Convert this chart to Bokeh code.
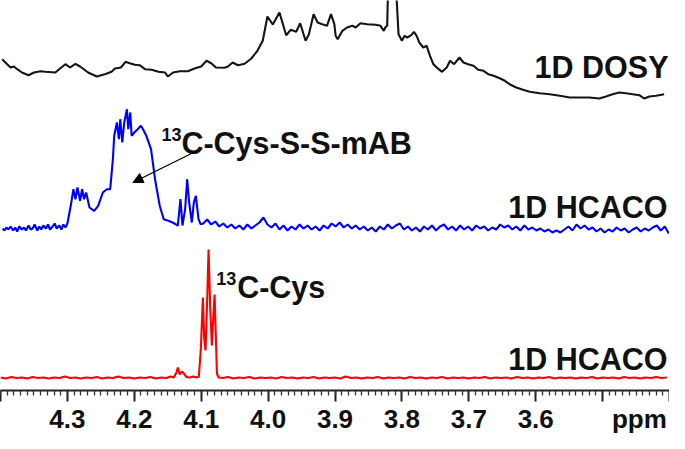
from bokeh.plotting import figure
from bokeh.models import (Range1d, FixedTicker, CustomJSTickFormatter, Label,
                          Arrow, NormalHead, LinearAxis)
from bokeh.embed import file_html
from bokeh.resources import INLINE

# ---------------- data (chemical shift in ppm, intensity in arbitrary units) -------------
dosy_ppm = [4.3975, 4.390, 4.385, 4.380, 4.375, 4.368, 4.358, 4.350, 4.340, 4.333,
            4.318, 4.311, 4.303, 4.296, 4.288, 4.281, 4.269, 4.256, 4.244, 4.234,
            4.229, 4.220, 4.213, 4.207, 4.199, 4.192, 4.184, 4.174, 4.164, 4.154,
            4.150, 4.142, 4.132, 4.120, 4.110, 4.100, 4.092, 4.085, 4.078, 4.065,
            4.060, 4.053, 4.045, 4.035, 4.025, 4.016, 4.008, 4.001, 3.993, 3.983,
            3.973, 3.966, 3.958, 3.952, 3.944, 3.939, 3.932, 3.926, 3.919, 3.912,
            3.906, 3.901, 3.899, 3.896, 3.889, 3.882, 3.874, 3.869, 3.862, 3.852,
            3.839, 3.832, 3.827, 3.825, 3.822, 3.821, 3.818, 3.811, 3.808, 3.805,
            3.800, 3.796, 3.792, 3.786, 3.782, 3.778, 3.774, 3.768, 3.763, 3.758,
            3.753, 3.745, 3.740, 3.733, 3.728, 3.722, 3.714, 3.708, 3.701, 3.693,
            3.686, 3.678, 3.671, 3.663, 3.653, 3.646, 3.639, 3.629, 3.619, 3.609,
            3.594, 3.579, 3.564, 3.549, 3.534, 3.520, 3.505, 3.495, 3.485, 3.475,
            3.465, 3.455, 3.445, 3.438, 3.430, 3.420, 3.408]
dosy_intensity = [43.3, 38.3, 35, 36, 33.3, 30, 27.3, 30, 31.3, 30.7,
                  30, 34, 38.3, 35, 38.7, 36, 30, 26, 28.3, 30.7,
                  34, 35, 40.7, 39.3, 37.7, 37.3, 33.3, 32.7, 30.7, 30,
                  26, 30, 31.3, 31.3, 34, 36, 41.7, 39.3, 35, 34.7,
                  36, 40, 37.3, 38.7, 44, 51.7, 61.7, 86, 78, 90,
                  67.3, 72.7, 70.7, 79.3, 61.7, 68.3, 88.3, 80, 78.3, 76.7,
                  88.3, 78.3, 66.7, 63.3, 71.7, 75, 76.7, 75, 79.3, 78.3,
                  77.7, 76.7, 71.7, 75, 76.7, 105, 140, 140, 105, 68.3,
                  61.7, 66.7, 65, 67.3, 70.7, 66.7, 60, 55, 56.7, 46.7,
                  38.3, 33.3, 30.7, 35, 41.7, 38.3, 45, 40, 38.3, 36.7,
                  32.7, 31.7, 28.3, 26.7, 24, 21.7, 18.3, 15, 12.7, 10.7,
                  9.3, 8.3, 6.7, 5, 5, 5, 4, 6, 8.3, 10,
                  9.3, 8.3, 7.3, 4, 6, 6.7, 8.3]

hcaco_mab_ppm = [4.397, 4.394, 4.391, 4.388, 4.385, 4.381, 4.378, 4.375, 4.372, 4.368,
                 4.365, 4.362, 4.358, 4.355, 4.352, 4.349, 4.345, 4.342, 4.339, 4.336,
                 4.332, 4.329, 4.326, 4.322, 4.319, 4.316, 4.312, 4.309, 4.306, 4.303,
                 4.300, 4.295, 4.291, 4.288, 4.285, 4.281, 4.278, 4.275, 4.272, 4.267,
                 4.260, 4.254, 4.247, 4.241, 4.236, 4.232, 4.230, 4.226, 4.223, 4.221,
                 4.218, 4.215, 4.211, 4.209, 4.206, 4.204, 4.200, 4.195, 4.190, 4.187,
                 4.182, 4.175, 4.169, 4.162, 4.156, 4.149, 4.143, 4.138, 4.135, 4.131,
                 4.128, 4.124, 4.121, 4.118, 4.114, 4.111, 4.108, 4.104, 4.101, 4.097,
                 4.091, 4.085, 4.079, 4.073, 4.067, 4.061, 4.055, 4.049, 4.043, 4.037,
                 4.031, 4.025, 4.019, 4.013, 4.007, 4.001, 3.995, 3.989, 3.983, 3.977,
                 3.971, 3.965, 3.959, 3.953, 3.947, 3.941, 3.935, 3.929, 3.923, 3.917,
                 3.911, 3.905, 3.899, 3.893, 3.887, 3.881, 3.875, 3.869, 3.863, 3.857,
                 3.851, 3.845, 3.839, 3.833, 3.827, 3.821, 3.815, 3.809, 3.803, 3.797,
                 3.791, 3.785, 3.779, 3.773, 3.767, 3.761, 3.755, 3.749, 3.743, 3.737,
                 3.731, 3.725, 3.719, 3.713, 3.707, 3.701, 3.695, 3.689, 3.683, 3.677,
                 3.671, 3.665, 3.659, 3.653, 3.647, 3.641, 3.635, 3.629, 3.623, 3.617,
                 3.611, 3.605, 3.599, 3.593, 3.587, 3.581, 3.575, 3.569, 3.563, 3.557,
                 3.551, 3.545, 3.539, 3.533, 3.527, 3.521, 3.515, 3.509, 3.503, 3.497,
                 3.491, 3.485, 3.479, 3.473, 3.467, 3.461, 3.455, 3.449, 3.443, 3.437,
                 3.431, 3.425, 3.419, 3.413, 3.407, 3.401]
hcaco_mab_intensity = [4, 2, 5, 3, 6, 2, 5, 1, 6, 3,
                       5, 2, 7, 3, 4, 8, 2, 6, 3, 7,
                       4, 8, 3, 6, 9, 4, 7, 3, 8, 5,
                       9, 26.7, 43.3, 33.3, 45, 31.7, 43.3, 33.3, 40, 25,
                       21.7, 26.7, 40, 43.3, 43.3, 73.3, 96.7, 110, 93.3, 113.3,
                       90, 110, 123.3, 103.3, 120, 96.7, 100, 103.3, 106.7, 103.3,
                       96.7, 83.3, 53.3, 26.7, 13.3, 11.7, 10, 8.3, 6.7, 33.3,
                       7, 23.3, 53.3, 30, 10, 30, 36.7, 13.3, 8.3, 9,
                       13, 8, 11, 6, 9, 5, 8, 4, 7, 3,
                       8, 4, 7, 10, 15, 8, 5, 9, 3, 7,
                       2, 6, 3, 8, 4, 7, 3, 6, 2, 7,
                       4, 9, 6, 10, 5, 8, 4, 7, 3, 6,
                       2, 5, 1, 6, 3, 8, 4, 7, 9, 3,
                       6, 2, 5, 1, 6, 3, 7, 2, 6, 8,
                       3, 6, 2, 7, 3, 6, 2, 7, 4, 6,
                       2, 5, 3, 8, 5, 7, 3, 6, 2, 7,
                       3, 5, 2, 4, 1, 3, 0, 2, 0, 3,
                       6, 2, 8, 4, 7, 3, 5, 1, 4, 0,
                       3, 1, 5, 2, 4, 0, 3, 5, 1, 4,
                       2, 5, 7, 2, 6, -1]

hcaco_cys_ppm = [4.400, 4.392, 4.384, 4.376, 4.368, 4.360, 4.352, 4.344, 4.336, 4.328,
                 4.320, 4.312, 4.304, 4.296, 4.288, 4.280, 4.272, 4.264, 4.256, 4.248,
                 4.240, 4.232, 4.224, 4.216, 4.208, 4.200, 4.192, 4.184, 4.176, 4.168,
                 4.160, 4.152, 4.146, 4.141, 4.137, 4.135, 4.132, 4.129, 4.126, 4.122,
                 4.117, 4.112, 4.107, 4.1035, 4.1005, 4.0975, 4.0955, 4.0935, 4.091, 4.089,
                 4.0865, 4.084, 4.082, 4.080, 4.078, 4.0765, 4.074, 4.068, 4.060, 4.052,
                 4.044, 4.036, 4.028, 4.020, 4.012, 4.004, 3.996, 3.988, 3.980, 3.972,
                 3.964, 3.956, 3.948, 3.940, 3.932, 3.924, 3.916, 3.908, 3.900, 3.892,
                 3.884, 3.876, 3.868, 3.860, 3.852, 3.844, 3.836, 3.828, 3.820, 3.812,
                 3.804, 3.796, 3.788, 3.780, 3.772, 3.764, 3.756, 3.748, 3.740, 3.732,
                 3.724, 3.716, 3.708, 3.700, 3.692, 3.684, 3.676, 3.668, 3.660, 3.652,
                 3.644, 3.636, 3.628, 3.620, 3.612, 3.604, 3.596, 3.588, 3.580, 3.572,
                 3.564, 3.556, 3.548, 3.540, 3.532, 3.524, 3.516, 3.508, 3.500, 3.492,
                 3.484, 3.476, 3.468, 3.460, 3.452, 3.444, 3.436, 3.428, 3.420, 3.412,
                 3.404]
hcaco_cys_intensity = [1, 0, 1.5, 0.5, 1, 0, 1.5, 0.5, 1, 0,
                       1, 0.5, 2, 0.5, 1, 0, 1, 0.5, 1.5, 0,
                       1, 0.5, 2, 0.5, 1, 0, 1, 0.5, 1.5, 0,
                       1, 0.5, 2, 1, 6, 11, 4, 7, 5, 1.5,
                       1, 2, 1, 2, 30, 81, 40, 28, 80, 129,
                       70, 33, 60, 84, 40, 5, 1, 0.5, 1.5, 0,
                       1, 0.5, 1.5, 0, 1, 0.5, 1, 0, 1.5, 0.5,
                       1, 0, 1, 0.5, 1.5, 0, 1, 0.5, 1, 0,
                       2, 0.5, 1, 0, 1, 0.5, 1.5, 0, 1, 0.5,
                       1, 0, 1.5, 0.5, 1, 0, 1, 0.5, 1.5, 0,
                       1, 0.5, 1, 0, 1, 0.5, 1.5, 0, 1, 0.5,
                       1, 0, 1.5, 0.5, 1, 0, 1, 0.5, 1.5, 0,
                       1, 0.5, 1, 0, 1, 0.5, 1.5, 0, 1, 0.5,
                       1, 0, 1.5, 0.5, 1, 0, 1, 0.5, 1.5, 0.5,
                       1]

major_ticks = [4.4, 4.3, 4.2, 4.1, 4.0, 3.9, 3.8, 3.7, 3.6, 3.5, 3.4]
labelled_ticks = [4.3, 4.2, 4.1, 4.0, 3.9, 3.8, 3.7, 3.6]
unit_text = "ppm"
trace_labels = ["1D DOSY", "1D HCACO", "1D HCACO"]

# ---------------- layout / style -------------
offsets = [288, 158, 12]          # vertical stacking of the three spectra
colors = ["#141414", "#0000ff", "#ff0000"]
FONT = "Liberation Sans"
UNIT_POS = 3.445                  # where the unit label sits under the axis

p = figure(frame_width=669, frame_height=390, output_backend="svg",
           toolbar_location=None,
           x_range=Range1d(4.40, 3.40), y_range=Range1d(0, 390),
           min_border_left=0, min_border_right=0, min_border_top=0,
           min_border_bottom=0, y_axis_location=None, x_axis_location="below")
p.grid.visible = False
p.outline_line_color = None
p.background_fill_color = "white"
p.border_fill_color = "white"

series = [(dosy_ppm, dosy_intensity), (hcaco_mab_ppm, hcaco_mab_intensity),
          (hcaco_cys_ppm, hcaco_cys_intensity)]
for (xs, ys), off, col in zip(series, offsets, colors):
    p.line(xs, [off + v for v in ys], line_color=col, line_width=2.1)

# axis line + ticks (no labels)
ax = p.xaxis[0]
ax.ticker = FixedTicker(ticks=major_ticks,
                        minor_ticks=[round(4.40 - 0.01 * i, 2) for i in range(101)])
ax.formatter = CustomJSTickFormatter(code="return '';")
ax.axis_line_color = "#222222"
ax.axis_line_width = 2
ax.major_tick_line_color = "#222222"
ax.major_tick_line_width = 2
ax.minor_tick_line_color = "#333333"
ax.minor_tick_line_width = 1.3
ax.major_tick_in = 0
ax.major_tick_out = 11
ax.minor_tick_in = 0
ax.minor_tick_out = 5
ax.major_label_standoff = 0
ax.major_label_text_font_size = "0px"

# tick labels + unit
ax2 = LinearAxis(ticker=FixedTicker(ticks=labelled_ticks + [UNIT_POS], minor_ticks=[]),
                 formatter=CustomJSTickFormatter(
                     args=dict(unit=unit_text),
                     code="return tick < 3.5 ? unit : tick.toFixed(1);"),
                 axis_line_color=None, major_tick_line_color=None,
                 minor_tick_line_color=None, major_tick_in=0, major_tick_out=0,
                 minor_tick_in=0, minor_tick_out=0, major_label_standoff=2,
                 major_label_text_font=FONT, major_label_text_font_style="bold",
                 major_label_text_font_size="26px", major_label_text_color="#111111")
p.add_layout(ax2, "below")

def add_text(x, y, text, size, align="left"):
    p.add_layout(Label(x=x, y=y, text=text, text_align=align,
                       text_baseline="alphabetic", text_font=FONT,
                       text_font_style="bold", text_font_size=size,
                       text_color="#111111"))

# trace names, right aligned
add_text(3.4015, 324, trace_labels[0], "30.5px", "right")
add_text(3.403, 184, trace_labels[1], "30.5px", "right")
add_text(3.403, 32, trace_labels[2], "30.5px", "right")

# peak annotations with superscript mass number
add_text(4.1594, 256, "13", "18px")
add_text(4.1296, 248, "C-Cys-S-S-mAB", "30.5px")
add_text(4.0775, 112, "13", "18px")
add_text(4.0463, 104, "C-Cys", "30.5px")

p.add_layout(Arrow(end=NormalHead(size=10, fill_color="black", line_color="black"),
                   x_start=4.1054, y_start=240, x_end=4.2021, y_end=208,
                   line_color="black", line_width=1.3))

open("out.html", "w").write(file_html(p, INLINE))
